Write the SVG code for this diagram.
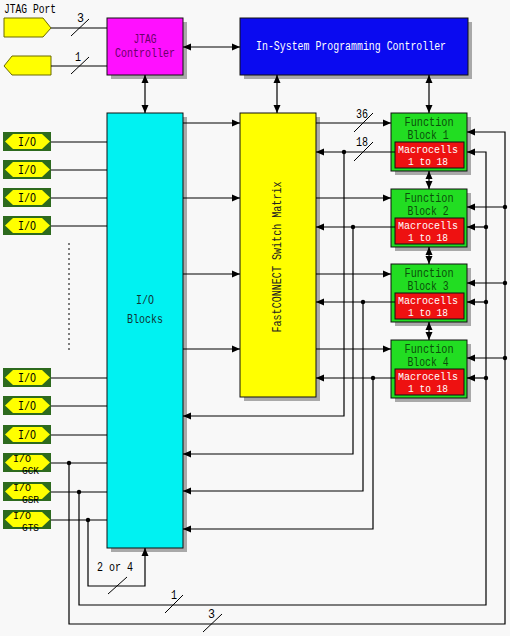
<svg xmlns="http://www.w3.org/2000/svg" width="510" height="636" viewBox="0 0 510 636">
<defs>
<marker id="ah" viewBox="0 0 8 8" refX="8" refY="4" markerWidth="8" markerHeight="8" markerUnits="userSpaceOnUse" orient="auto-start-reverse">
<path d="M0,0.5 L8,4 L0,7.5 Z" fill="#000"/>
</marker>
<g id="pad">
<rect x="3" y="-10" width="48" height="19" fill="#2d6a1e"/>
<polygon points="5,-0.5 13,-8 42,-8 50,-0.5 42,7 13,7" fill="#ffff00"/>
</g>
</defs>
<style>
text{font-family:"Liberation Mono","DejaVu Sans Mono",monospace;font-size:12px;fill:#000;}
.c{text-anchor:middle;}
.ln{fill:none;stroke:#000;stroke-width:1.2;}
.a{marker-end:url(#ah);}
.aa{marker-start:url(#ah);marker-end:url(#ah);}
.sh{fill:#a9a9a9;}
.bx{stroke:#111;stroke-width:1;}
.dot{fill:#000;}
.sl{stroke:#000;stroke-width:1;}
text.fbt{fill:#0b4f0b;}
text.mct{fill:#fff;font-size:10.5px;}
text.pl{font-size:11px;}
text.ps{font-size:10px;}
</style>
<rect width="510" height="636" fill="#f8f8f8"/>

<text x="4" y="13" textLength="52" lengthAdjust="spacingAndGlyphs">JTAG Port</text>

<g id="jtag-pad-in">
<polygon points="4,18 43,18 51,28 43,37 4,37" fill="#ffff00" stroke="#6b6b00" stroke-width="1"/>
</g>
<g id="jtag-pad-out">
<polygon points="4,66 12,56 51,56 51,75 12,75" fill="#ffff00" stroke="#6b6b00" stroke-width="1"/>
</g>

<g id="jtag-controller">
<rect x="111" y="22" width="76" height="57" class="sh"/>
<rect x="107" y="18" width="76" height="57" fill="#ff10ff" class="bx"/>
<text x="145" y="43" class="c" style="fill:#6a006a" textLength="23" lengthAdjust="spacingAndGlyphs">JTAG</text>
<text x="145" y="57" class="c" style="fill:#6a006a" textLength="60" lengthAdjust="spacingAndGlyphs">Controller</text>
</g>

<g id="isp-controller">
<rect x="244" y="22" width="228" height="57" class="sh"/>
<rect x="240" y="18" width="228" height="57" fill="#0a0af0" class="bx"/>
<text x="351" y="50" class="c" style="fill:#fff" textLength="190" lengthAdjust="spacingAndGlyphs">In-System Programming Controller</text>
</g>

<g id="io-blocks">
<rect x="111" y="117" width="76" height="435" class="sh"/>
<rect x="107" y="113" width="76" height="435" fill="#00f2f2" class="bx"/>
<text x="145" y="304" class="c" style="fill:#113333" textLength="18" lengthAdjust="spacingAndGlyphs">I/O</text>
<text x="145" y="323" class="c" style="fill:#113333" textLength="36" lengthAdjust="spacingAndGlyphs">Blocks</text>
</g>

<g id="switch-matrix">
<rect x="244" y="117" width="76" height="284" class="sh"/>
<rect x="240" y="113" width="76" height="284" fill="#ffff00" class="bx"/>
<text x="0" y="0" class="c" style="fill:#222" transform="translate(281,257) rotate(-90)" textLength="151" lengthAdjust="spacingAndGlyphs">FastCONNECT Switch Matrix</text>
</g>

<g id="fb1">
<rect x="395" y="117" width="76" height="58" class="sh"/>
<rect x="391" y="113" width="76" height="58" fill="#22dd22" class="bx"/>
<rect x="395" y="142" width="69" height="26" fill="#ee1111" class="bx"/>
<text x="429" y="126" class="c fbt" textLength="49" lengthAdjust="spacingAndGlyphs">Function</text>
<text x="428" y="139" class="c fbt" textLength="41" lengthAdjust="spacingAndGlyphs">Block 1</text>
<text x="428" y="152.5" class="c mct" textLength="60" lengthAdjust="spacingAndGlyphs">Macrocells</text>
<text x="428" y="165" class="c mct" textLength="40" lengthAdjust="spacingAndGlyphs">1 to 18</text>
</g>
<g id="fb2">
<rect x="395" y="193" width="76" height="58" class="sh"/>
<rect x="391" y="189" width="76" height="58" fill="#22dd22" class="bx"/>
<rect x="395" y="218" width="69" height="26" fill="#ee1111" class="bx"/>
<text x="429" y="202" class="c fbt" textLength="49" lengthAdjust="spacingAndGlyphs">Function</text>
<text x="428" y="215" class="c fbt" textLength="41" lengthAdjust="spacingAndGlyphs">Block 2</text>
<text x="428" y="228.5" class="c mct" textLength="60" lengthAdjust="spacingAndGlyphs">Macrocells</text>
<text x="428" y="241" class="c mct" textLength="40" lengthAdjust="spacingAndGlyphs">1 to 18</text>
</g>
<g id="fb3">
<rect x="395" y="268" width="76" height="58" class="sh"/>
<rect x="391" y="264" width="76" height="58" fill="#22dd22" class="bx"/>
<rect x="395" y="293" width="69" height="26" fill="#ee1111" class="bx"/>
<text x="429" y="277" class="c fbt" textLength="49" lengthAdjust="spacingAndGlyphs">Function</text>
<text x="428" y="290" class="c fbt" textLength="41" lengthAdjust="spacingAndGlyphs">Block 3</text>
<text x="428" y="303.5" class="c mct" textLength="60" lengthAdjust="spacingAndGlyphs">Macrocells</text>
<text x="428" y="316" class="c mct" textLength="40" lengthAdjust="spacingAndGlyphs">1 to 18</text>
</g>
<g id="fb4">
<rect x="395" y="344" width="76" height="58" class="sh"/>
<rect x="391" y="340" width="76" height="58" fill="#22dd22" class="bx"/>
<rect x="395" y="369" width="69" height="26" fill="#ee1111" class="bx"/>
<text x="429" y="353" class="c fbt" textLength="49" lengthAdjust="spacingAndGlyphs">Function</text>
<text x="428" y="366" class="c fbt" textLength="41" lengthAdjust="spacingAndGlyphs">Block 4</text>
<text x="428" y="379.5" class="c mct" textLength="60" lengthAdjust="spacingAndGlyphs">Macrocells</text>
<text x="428" y="392" class="c mct" textLength="40" lengthAdjust="spacingAndGlyphs">1 to 18</text>
</g>

<g id="io-pad-1"><use href="#pad" y="142"/><text x="27" y="146" class="c" textLength="18" lengthAdjust="spacingAndGlyphs">I/O</text></g>
<g id="io-pad-2"><use href="#pad" y="170"/><text x="27" y="174" class="c" textLength="18" lengthAdjust="spacingAndGlyphs">I/O</text></g>
<g id="io-pad-3"><use href="#pad" y="198"/><text x="27" y="202" class="c" textLength="18" lengthAdjust="spacingAndGlyphs">I/O</text></g>
<g id="io-pad-4"><use href="#pad" y="226"/><text x="27" y="230" class="c" textLength="18" lengthAdjust="spacingAndGlyphs">I/O</text></g>
<g id="io-pad-5"><use href="#pad" y="378"/><text x="27" y="382" class="c" textLength="18" lengthAdjust="spacingAndGlyphs">I/O</text></g>
<g id="io-pad-6"><use href="#pad" y="406"/><text x="27" y="410" class="c" textLength="18" lengthAdjust="spacingAndGlyphs">I/O</text></g>
<g id="io-pad-7"><use href="#pad" y="435"/><text x="27" y="439" class="c" textLength="18" lengthAdjust="spacingAndGlyphs">I/O</text></g>
<g id="io-pad-gck"><use href="#pad" y="463"/><text x="13" y="462" class="pl" textLength="18" lengthAdjust="spacingAndGlyphs">I/O</text><text x="22" y="474" class="ps" textLength="17" lengthAdjust="spacingAndGlyphs">GCK</text></g>
<g id="io-pad-gsr"><use href="#pad" y="492"/><text x="13" y="491" class="pl" textLength="18" lengthAdjust="spacingAndGlyphs">I/O</text><text x="22" y="503" class="ps" textLength="17" lengthAdjust="spacingAndGlyphs">GSR</text></g>
<g id="io-pad-gts"><use href="#pad" y="520"/><text x="13" y="519" class="pl" textLength="18" lengthAdjust="spacingAndGlyphs">I/O</text><text x="22" y="531" class="ps" textLength="17" lengthAdjust="spacingAndGlyphs">GTS</text></g>

<g id="connectors">
<path class="ln" d="M51,28 H107 M51,66 H107"/>
<path class="ln aa" d="M183,47 H240"/>
<path class="ln aa" d="M145,75 V113"/>
<path class="ln aa" d="M277,75 V113"/>
<path class="ln aa" d="M429,75 V113"/>
<path class="ln aa" d="M429,171 V189"/>
<path class="ln aa" d="M429,247 V264"/>
<path class="ln aa" d="M429,322 V340"/>

<path class="ln a" d="M183,123 H240"/>
<path class="ln a" d="M183,198 H240"/>
<path class="ln a" d="M183,274 H240"/>
<path class="ln a" d="M183,349 H240"/>

<path class="ln a" d="M316,123 H391"/>
<path class="ln a" d="M316,198 H391"/>
<path class="ln a" d="M316,274 H391"/>
<path class="ln a" d="M316,349 H391"/>

<path class="ln a" d="M395,152 H316"/>
<path class="ln a" d="M395,227 H316"/>
<path class="ln a" d="M395,302 H316"/>
<path class="ln a" d="M395,378 H316"/>

<path class="ln a" d="M344,152 V416 H183"/>
<path class="ln a" d="M353,227 V454 H183"/>
<path class="ln a" d="M363,302 V491 H183"/>
<path class="ln a" d="M373,378 V529 H183"/>

<path class="ln" d="M51,142 H107 M51,170 H107 M51,198 H107 M51,226 H107 M51,378 H107 M51,406 H107 M51,435 H107 M51,463 H107 M51,492 H107 M51,520 H107"/>
<path d="M69,243 V352" fill="none" stroke="#000" stroke-width="1" stroke-dasharray="2,3"/>

<path class="ln a" d="M69,463 V624 H505 V132 H467"/>
<path class="ln a" d="M79,492 V605 H486 V152 H467"/>
<path class="ln a" d="M88,520 V586 H145 V548"/>
<path class="ln a" d="M505,207 H467"/>
<path class="ln a" d="M505,283 H467"/>
<path class="ln a" d="M505,358 H467"/>
<path class="ln a" d="M486,227 H467"/>
<path class="ln a" d="M486,302 H467"/>
<path class="ln a" d="M486,378 H467"/>

<circle class="dot" cx="344" cy="152" r="2.2"/>
<circle class="dot" cx="353" cy="227" r="2.2"/>
<circle class="dot" cx="363" cy="302" r="2.2"/>
<circle class="dot" cx="373" cy="378" r="2.2"/>
<circle class="dot" cx="505" cy="207" r="2.2"/>
<circle class="dot" cx="505" cy="283" r="2.2"/>
<circle class="dot" cx="505" cy="358" r="2.2"/>
<circle class="dot" cx="486" cy="227" r="2.2"/>
<circle class="dot" cx="486" cy="302" r="2.2"/>
<circle class="dot" cx="486" cy="378" r="2.2"/>
<circle class="dot" cx="69" cy="463" r="2.2"/>
<circle class="dot" cx="79" cy="492" r="2.2"/>
<circle class="dot" cx="88" cy="520" r="2.2"/>

<path class="sl" d="M71,36 L89,19 M71,74 L89,57 M354,132 L373,113 M354,161 L373,142 M108,594 L127,577 M165,613 L183,595 M203,632 L222,614"/>
<text x="77" y="22" textLength="7" lengthAdjust="spacingAndGlyphs">3</text>
<text x="75" y="61" textLength="6" lengthAdjust="spacingAndGlyphs">1</text>
<text x="356" y="118" textLength="12" lengthAdjust="spacingAndGlyphs">36</text>
<text x="356" y="146" textLength="12" lengthAdjust="spacingAndGlyphs">18</text>
<text x="97" y="571" textLength="36" lengthAdjust="spacingAndGlyphs">2 or 4</text>
<text x="171" y="599" textLength="6" lengthAdjust="spacingAndGlyphs">1</text>
<text x="208" y="618" textLength="7" lengthAdjust="spacingAndGlyphs">3</text>
</g>
</svg>
